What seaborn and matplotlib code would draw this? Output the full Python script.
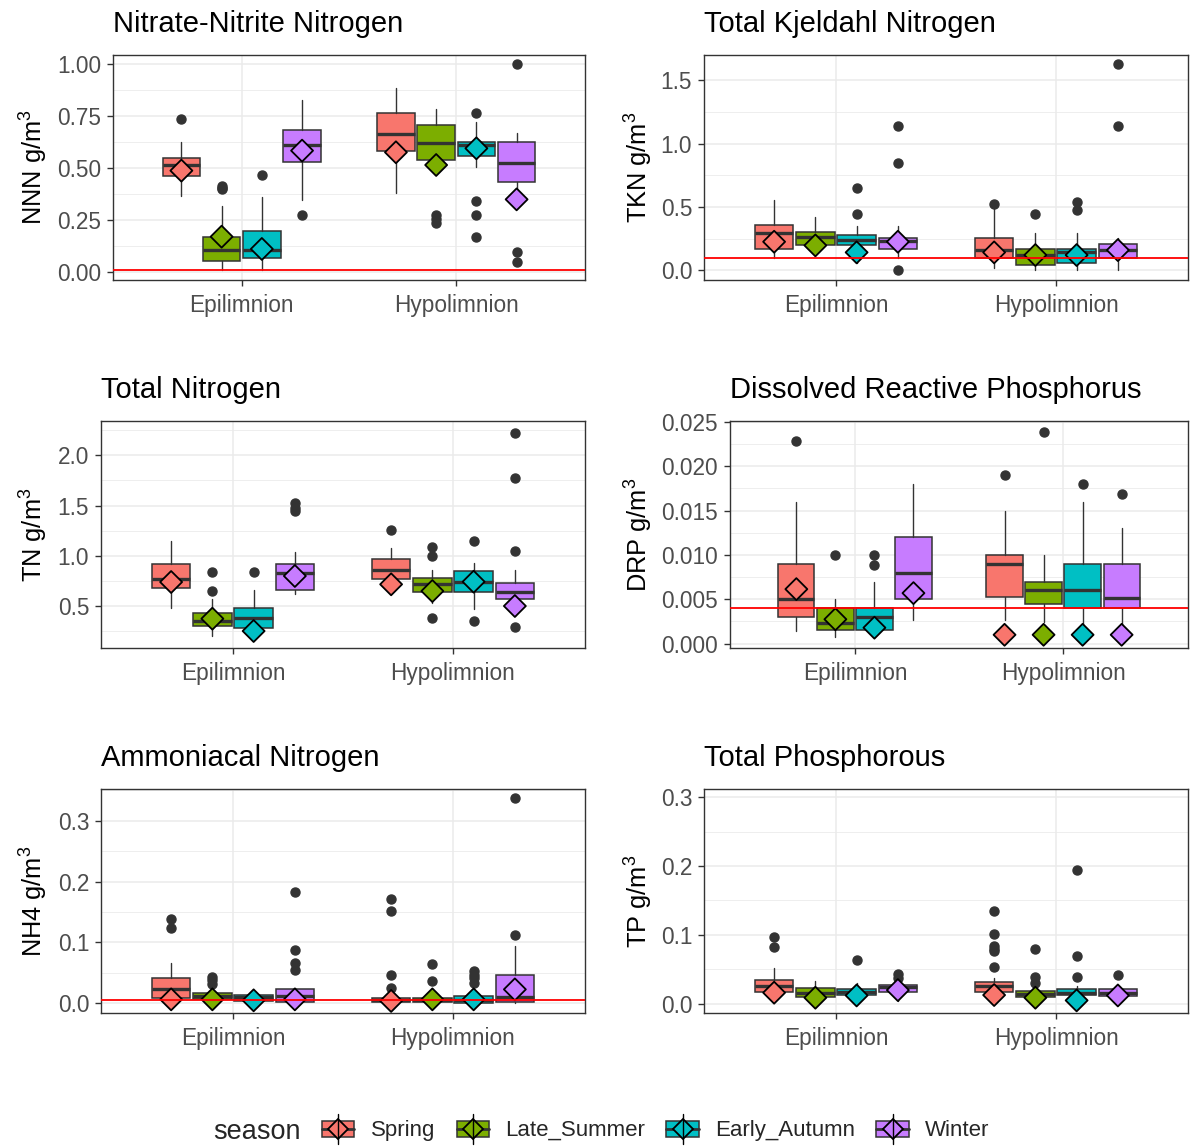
import matplotlib
matplotlib.use("Agg")
import matplotlib.pyplot as plt
import pandas as pd
import seaborn as sns
from matplotlib.lines import Line2D
from matplotlib.patches import Patch, Rectangle
from matplotlib.legend_handler import HandlerBase
from matplotlib.ticker import MultipleLocator, FormatStrFormatter

# categories
layers = ["Epilimnion", "Hypolimnion"]
seasons = ["Spring", "Late_Summer", "Early_Autumn", "Winter"]
season_colors = ["#F8766D", "#7CAE00", "#00BFC4", "#C77CFF"]

# box stats, order: Epi Spring, Late_Summer, Early_Autumn, Winter, then Hypo in same order
nnn_lo = [0.366, 0.01, 0.01, 0.347, 0.382, 0.49, 0.507, 0.39]
nnn_q1 = [0.462, 0.054, 0.069, 0.531, 0.584, 0.541, 0.558, 0.435]
nnn_med = [0.515, 0.107, 0.107, 0.611, 0.664, 0.621, 0.611, 0.523]
nnn_q3 = [0.550, 0.171, 0.198, 0.682, 0.766, 0.706, 0.627, 0.624]
nnn_hi = [0.624, 0.32, 0.363, 0.826, 0.886, 0.784, 0.723, 0.667]
nnn_mark = [0.488, 0.171, 0.112, 0.584, 0.576, 0.515, 0.595, 0.350]
nnn_out = [[0.736], [0.414, 0.398, 0.405], [0.466], [0.275], [],
           [0.275, 0.256, 0.235], [0.766, 0.344, 0.275, 0.171], [1.0, 0.099, 0.051]]

tkn_lo = [0.095, 0.16, 0.06, 0.095, 0.016, 0.0, 0.0, 0.0]
tkn_q1 = [0.168, 0.197, 0.197, 0.171, 0.095, 0.04, 0.055, 0.095]
tkn_med = [0.292, 0.266, 0.237, 0.229, 0.16, 0.121, 0.142, 0.16]
tkn_q3 = [0.355, 0.30, 0.282, 0.255, 0.255, 0.168, 0.168, 0.21]
tkn_hi = [0.553, 0.424, 0.35, 0.35, 0.49, 0.295, 0.295, 0.253]
tkn_mark = [0.226, 0.197, 0.142, 0.226, 0.142, 0.121, 0.121, 0.16]
tkn_out = [[], [], [0.653, 0.447], [1.137, 0.85, 0.0], [0.524],
           [0.447], [0.542, 0.476], [1.629, 1.137]]

tn_lo = [0.483, 0.20, 0.17, 0.616, 0.626, 0.533, 0.473, 0.40]
tn_q1 = [0.679, 0.30, 0.281, 0.66, 0.772, 0.643, 0.643, 0.573]
tn_med = [0.772, 0.351, 0.377, 0.832, 0.855, 0.722, 0.742, 0.639]
tn_q3 = [0.915, 0.427, 0.48, 0.915, 0.971, 0.776, 0.845, 0.732]
tn_hi = [1.147, 0.566, 0.66, 1.038, 1.081, 0.858, 0.925, 0.858]
tn_mark = [0.739, 0.374, 0.251, 0.799, 0.716, 0.649, 0.742, 0.50]
tn_out = [[], [0.839, 0.649], [0.839], [1.529, 1.479, 1.446], [1.257],
          [1.084, 0.998, 0.384], [1.147, 0.351], [2.226, 1.774, 1.048, 0.291]]

drp_lo = [0.00143, 0.0008, 0.0008, 0.00268, 0.00268, 0.0024, 0.002, 0.002]
drp_q1 = [0.00302, 0.00155, 0.00155, 0.005, 0.00528, 0.0045, 0.00403, 0.004]
drp_med = [0.00509, 0.0023, 0.00305, 0.00796, 0.009, 0.00607, 0.00607, 0.0051]
drp_q3 = [0.00897, 0.00403, 0.00403, 0.01207, 0.01, 0.0069, 0.009, 0.009]
drp_hi = [0.01595, 0.005, 0.0069, 0.01795, 0.01493, 0.00995, 0.016, 0.013]
drp_mark = [0.00615, 0.00275, 0.0018, 0.0057, 0.001, 0.001, 0.001, 0.001]
drp_out = [[0.0229], [0.00995], [0.01, 0.0089], [], [0.019],
           [0.0239], [0.018], [0.0169]]

nh4_lo = [0.0, 0.003, 0.002, 0.0, 0.0, 0.0, 0.0, 0.0]
nh4_q1 = [0.0082, 0.0066, 0.004, 0.0027, 0.0027, 0.0027, 0.001, 0.0027]
nh4_med = [0.023, 0.012, 0.0104, 0.012, 0.0055, 0.0055, 0.0055, 0.0104]
nh4_q3 = [0.041, 0.0164, 0.0137, 0.023, 0.0082, 0.0082, 0.012, 0.046]
nh4_hi = [0.0667, 0.0164, 0.0137, 0.0257, 0.0082, 0.0082, 0.012, 0.094]
nh4_mark = [0.0066, 0.0066, 0.005, 0.0066, 0.004, 0.0066, 0.0066, 0.023]
nh4_out = [[0.139, 0.123], [0.043, 0.038, 0.031], [], [0.183, 0.087, 0.066, 0.0546],
           [0.171, 0.151, 0.046, 0.0246], [0.064, 0.037], [0.053, 0.046, 0.041, 0.034],
           [0.337, 0.113]]

tp_lo = [0.009, 0.0, 0.005, 0.004, 0.008, 0.002, 0.002, 0.004]
tp_q1 = [0.0174, 0.0097, 0.012, 0.0174, 0.0174, 0.0097, 0.012, 0.011]
tp_med = [0.0256, 0.016, 0.0174, 0.024, 0.0256, 0.0135, 0.016, 0.016]
tp_q3 = [0.0343, 0.023, 0.0208, 0.0266, 0.0314, 0.018, 0.0208, 0.0208]
tp_hi = [0.052, 0.033, 0.0305, 0.030, 0.037, 0.0256, 0.0256, 0.025]
tp_mark = [0.016, 0.0087, 0.012, 0.0198, 0.0126, 0.0087, 0.0048, 0.012]
tp_out = [[0.097, 0.083], [], [0.063], [0.0426, 0.0377],
          [0.134, 0.102, 0.084, 0.08, 0.076, 0.054], [0.080, 0.0387, 0.0305],
          [0.194, 0.069, 0.0387], [0.041]]

# guideline values (red lines)
nnn_limit = 0.01
tkn_limit = 0.1
drp_limit = 0.004
nh4_limit = 0.005

W, H = 1190, 1146
GREY20 = "#333333"

sns.set_theme(style="white")
plt.rcParams["font.family"] = ["Liberation Sans", "DejaVu Sans"]
plt.rcParams["mathtext.fontset"] = "custom"
plt.rcParams["mathtext.rm"] = "Liberation Sans"
plt.rcParams["mathtext.it"] = "Liberation Sans:italic"

fig = plt.figure(figsize=(W / 100, H / 100), dpi=100)

dodge = [-0.28125, -0.09375, 0.09375, 0.28125]


def px_axes(l, t, r, b):
    return fig.add_axes([l / W, 1 - b / H, (r - l) / W, (b - t) / H])


def draw_panel(ax, title, ylab, lo, q1, med, q3, hi, mark, out, limit,
               ylim, step, fmt, label_x):
    stats, pos, season_col = [], [], []
    for i in range(8):
        layer, s = divmod(i, 4)
        stats.append(dict(whislo=lo[i], q1=q1[i], med=med[i], q3=q3[i],
                          whishi=hi[i], fliers=out[i]))
        pos.append(layer + dodge[s])
        season_col.append(seasons[s])
    bp = ax.bxp(stats, positions=pos, widths=0.174, patch_artist=True,
                showcaps=False,
                boxprops=dict(edgecolor=GREY20, linewidth=1.1),
                whiskerprops=dict(color=GREY20, linewidth=1.0),
                medianprops=dict(color=GREY20, linewidth=2.4, solid_capstyle="butt"),
                flierprops=dict(marker="o", markersize=6.5, markerfacecolor=GREY20,
                                markeredgecolor=GREY20, linestyle="none"),
                zorder=3)
    for i, patch in enumerate(bp["boxes"]):
        patch.set_facecolor(season_colors[i % 4])

    df = pd.DataFrame({"x": pos, "y": mark, "season": season_col})
    sns.scatterplot(data=df, x="x", y="y", hue="season", hue_order=seasons,
                    palette=season_colors, marker="D", s=125, edgecolor="black",
                    linewidth=1.3, legend=False, zorder=5, ax=ax)
    if limit is not None:
        ax.axhline(limit, color="red", linewidth=1.3, zorder=6)

    ax.set_xlim(-0.6, 1.6)
    ax.set_ylim(*ylim)
    ax.set_xticks([0, 1])
    ax.set_xticklabels(layers)
    ax.yaxis.set_major_locator(MultipleLocator(step))
    ax.yaxis.set_minor_locator(MultipleLocator(step / 2))
    ax.yaxis.set_major_formatter(FormatStrFormatter(fmt))
    ax.grid(True, which="major", color="#EBEBEB", linewidth=1.1, zorder=0)
    ax.grid(True, which="minor", axis="y", color="#EBEBEB", linewidth=0.6, zorder=0)
    ax.set_axisbelow(True)
    ax.tick_params(axis="both", which="major", length=4, width=1, color=GREY20,
                   labelcolor="#4D4D4D", labelsize=16.3, left=True, bottom=True)
    ax.tick_params(axis="y", which="major", pad=4.5)
    ax.tick_params(axis="x", which="major", pad=6)
    ax.tick_params(axis="both", which="minor", length=0)
    for sp in ax.spines.values():
        sp.set_color(GREY20)
        sp.set_linewidth(1.0)
    ax.set_xlabel("")
    ax.set_ylabel(ylab, fontsize=18.3, color="black")
    l = ax.get_position().x0 * W
    w = ax.get_position().width * W
    ax.yaxis.set_label_coords((label_x - l) / w, 0.5)
    ax.set_title(title, loc="left", fontsize=21, color="black", pad=16.5)


ax1 = px_axes(113, 55, 585, 280)
draw_panel(ax1, "Nitrate-Nitrite Nitrogen", "NNN g/m$^3$", nnn_lo, nnn_q1, nnn_med,
           nnn_q3, nnn_hi, nnn_mark, nnn_out, nnn_limit, (-0.037, 1.043), 0.25, "%.2f", 50)
ax2 = px_axes(704, 55, 1188, 280)
draw_panel(ax2, "Total Kjeldahl Nitrogen", "TKN g/m$^3$", tkn_lo, tkn_q1, tkn_med,
           tkn_q3, tkn_hi, tkn_mark, tkn_out, tkn_limit, (-0.076, 1.70), 0.5, "%.1f", 655)
ax3 = px_axes(101, 421, 585, 648)
draw_panel(ax3, "Total Nitrogen", "TN g/m$^3$", tn_lo, tn_q1, tn_med,
           tn_q3, tn_hi, tn_mark, tn_out, None, (0.082, 2.342), 0.5, "%.1f", 50)
ax4 = px_axes(730, 421, 1188, 648)
draw_panel(ax4, "Dissolved Reactive Phosphorus", "DRP g/m$^3$", drp_lo, drp_q1, drp_med,
           drp_q3, drp_hi, drp_mark, drp_out, drp_limit, (-0.00049, 0.02511), 0.005, "%.3f", 655)
ax5 = px_axes(101, 789, 585, 1013)
draw_panel(ax5, "Ammoniacal Nitrogen", "NH4 g/m$^3$", nh4_lo, nh4_q1, nh4_med,
           nh4_q3, nh4_hi, nh4_mark, nh4_out, nh4_limit, (-0.0158, 0.352), 0.1, "%.1f", 50)
ax6 = px_axes(704, 789, 1188, 1013)
draw_panel(ax6, "Total Phosphorous", "TP g/m$^3$", tp_lo, tp_q1, tp_med,
           tp_q3, tp_hi, tp_mark, tp_out, None, (-0.0135, 0.312), 0.1, "%.1f", 655)


class BoxKey(HandlerBase):
    def create_artists(self, legend, orig_handle, xdescent, ydescent, width, height,
                       fontsize, trans):
        fc = orig_handle.get_facecolor()
        x0, y0 = -xdescent, -ydescent
        cx, cy = x0 + width / 2, y0 + height / 2
        box = Rectangle((x0, y0 + 0.27 * height), width, 0.46 * height, facecolor=fc,
                        edgecolor=GREY20, linewidth=1.1, transform=trans)
        med = Line2D([x0, x0 + width], [cy, cy], color=GREY20, linewidth=2.0,
                     transform=trans)
        dia = Line2D([cx], [cy], marker="D", markersize=10, markerfacecolor=fc,
                     markeredgecolor="black", markeredgewidth=1.3, linestyle="none",
                     transform=trans)
        whisk = Line2D([cx, cx], [y0 + 0.08 * height, y0 + 0.92 * height], color="black",
                       linewidth=1.0, transform=trans)
        return [box, med, dia, whisk]


handles = [Patch(facecolor=c, label=s) for c, s in zip(season_colors, seasons)]
fig.legend(handles=handles, handler_map={Patch: BoxKey()}, loc="center",
           bbox_to_anchor=(656 / W, 1 - 1129 / H), ncol=4, frameon=False,
           fontsize=16, handlelength=1.45, handleheight=2.1, handletextpad=0.75,
           columnspacing=0.95, borderpad=0.2)
fig.text(213 / W, 1 - 1132 / H, "season", ha="left", va="center", fontsize=19.5)

fig.savefig("out.png", dpi=100)
